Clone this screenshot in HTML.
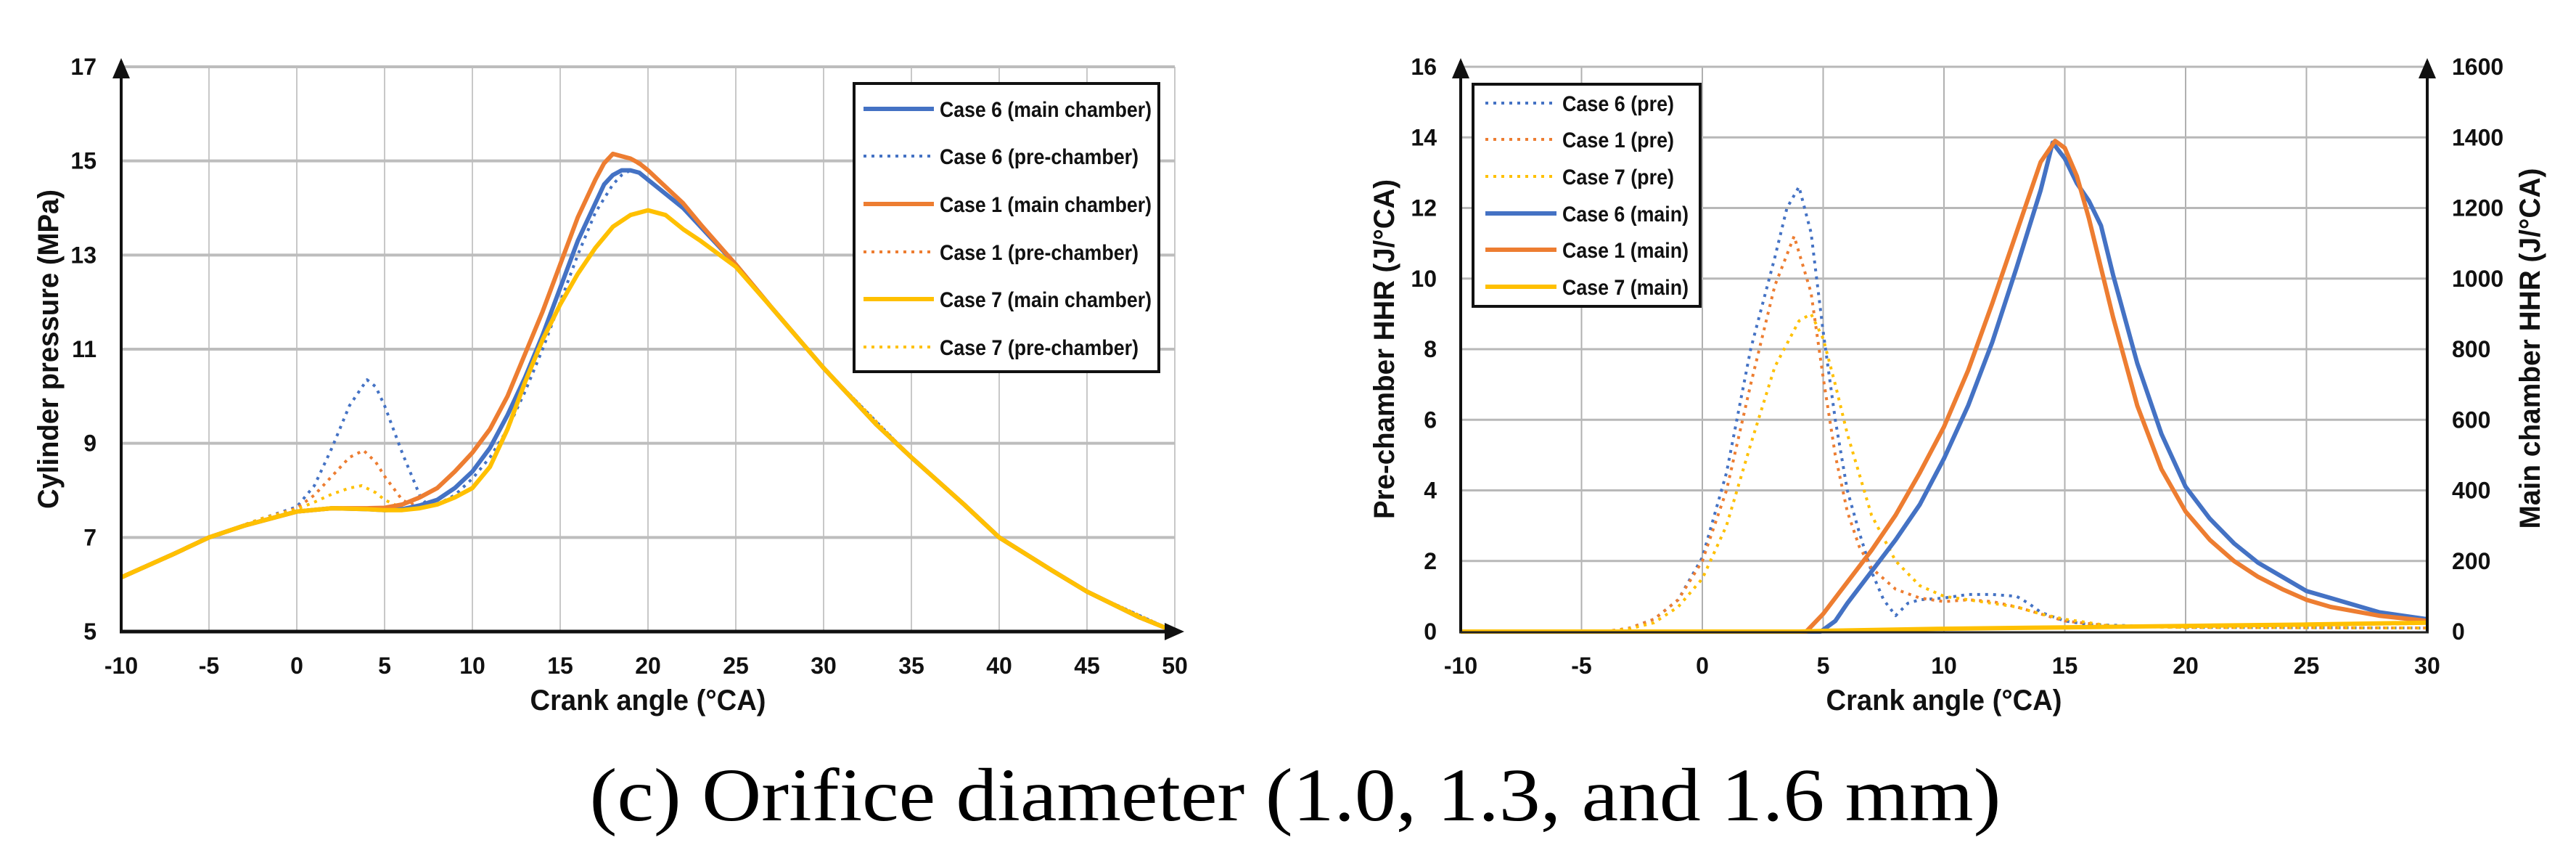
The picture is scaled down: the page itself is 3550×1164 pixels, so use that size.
<!DOCTYPE html>
<html><head><meta charset="utf-8"><style>
html,body{margin:0;padding:0;background:#fff;}
svg{display:block;font-family:"Liberation Sans",sans-serif;}
</style></head><body>
<svg id="fig" width="3550" height="1164" viewBox="0 0 3550 1164" xmlns="http://www.w3.org/2000/svg">
<g id="left"></g>
<g id="right"></g>
<text x="1785" y="1130" text-anchor="middle" font-family="Liberation Serif, serif" font-size="104" textLength="1945" lengthAdjust="spacingAndGlyphs">(c) Orifice diameter (1.0, 1.3, and 1.6 mm)</text>
</svg>
<script>
// ---- Left chart data (cylinder pressure, MPa) ----
const pXTicks = [-10,-5,0,5,10,15,20,25,30,35,40,45,50];
const pYTicks = [5,7,9,11,13,15,17];
const c6mainX = [-10,-7,-5,-3,0,2,4,5,6,7,8,9,10,11,12,13,14,15,16,17,17.5,18,18.5,19,19.5,20,21,22,23,25,27,30,33,35,38,40,43,45,48,50];
const c6mainY = [6.15,6.65,7.0,7.25,7.55,7.62,7.6,7.58,7.6,7.68,7.8,8.05,8.4,8.9,9.6,10.4,11.3,12.3,13.3,14.1,14.5,14.7,14.8,14.8,14.75,14.6,14.3,14.0,13.6,12.8,11.9,10.6,9.4,8.7,7.7,7.0,6.3,5.85,5.3,5.0];
const c1mainX = [-10,-7,-5,-3,0,2,4,5,6,7,8,9,10,11,12,13,14,15,16,17,17.5,18,18.5,19,19.5,20,21,22,23,25,27,30,33,35,38,40,43,45,48,50];
const c1mainY = [6.15,6.65,7.0,7.25,7.55,7.62,7.62,7.63,7.7,7.85,8.05,8.4,8.8,9.3,10.0,10.9,11.8,12.8,13.8,14.6,14.95,15.15,15.1,15.05,14.95,14.8,14.45,14.1,13.65,12.8,11.9,10.6,9.4,8.7,7.7,7.0,6.3,5.85,5.3,5.0];
const c7mainX = [-10,-7,-5,-3,0,2,4,5,6,7,8,9,10,11,12,13,14,15,16,17,18,19,20,21,22,23,25,27,30,33,35,38,40,43,45,48,50];
const c7mainY = [6.15,6.65,7.0,7.25,7.55,7.62,7.6,7.58,7.58,7.62,7.7,7.85,8.05,8.5,9.3,10.3,11.2,11.95,12.6,13.15,13.6,13.85,13.95,13.85,13.55,13.3,12.75,11.9,10.6,9.4,8.7,7.7,7.0,6.3,5.85,5.3,5.0];
const c6preX = [-10,-5,-2,0,1,2,3,4,4.5,5,6,7,7.5,8,9,10,11,12,13,14,15,16,17,18,18.5,19,19.5,20,22,25,30,35,40,45,50];
const c6preY = [6.15,7.0,7.4,7.65,8.1,8.9,9.8,10.35,10.2,9.8,8.8,7.9,7.65,7.7,7.9,8.25,8.7,9.3,10.1,11.0,12.0,13.0,13.9,14.5,14.7,14.8,14.75,14.6,14.0,12.8,10.6,8.7,7.0,5.85,5.0];
const c1preX = [-10,-5,-2,0,1,2,3,3.8,4.5,5,6,6.5,7,8,9,10,11,12,13,14,15,16,17,17.5,18,19,20,22,25,30,35,40,45,50];
const c1preY = [6.15,7.0,7.4,7.62,7.9,8.3,8.7,8.85,8.6,8.3,7.8,7.7,7.85,8.05,8.4,8.8,9.3,10.0,10.9,11.8,12.8,13.8,14.6,14.95,15.15,15.05,14.8,14.1,12.8,10.6,8.7,7.0,5.85,5.0];
const c7preX = [-10,-5,-2,0,1,2,3,3.7,4.5,5,6,7,8,9,10,11,12,13,14,15,16,17,18,19,20,21,22,25,30,35,40,45,50];
const c7preY = [6.15,7.0,7.4,7.6,7.75,7.92,8.05,8.1,7.95,7.8,7.62,7.62,7.7,7.85,8.05,8.5,9.3,10.3,11.2,11.95,12.6,13.15,13.6,13.85,13.95,13.85,13.55,12.75,10.6,8.7,7.0,5.85,5.0];

// ---- Right chart data (HHR) ----
const hXTicks = [-10,-5,0,5,10,15,20,25,30];
const hYTicksL = [0,2,4,6,8,10,12,14,16];
const hYTicksR = [0,200,400,600,800,1000,1200,1400,1600];
const p6X = [-10,-4,-3,-2,-1,0,1,2,3,3.5,4,4.5,5,5.5,6,6.5,7,7.5,8,8.5,9,10,11,12,13,13.5,14,15,16,20,30];
const p6Y = [0,0,0.1,0.35,0.9,2.1,4.5,8.0,10.6,12.0,12.6,11.3,8.5,6.0,4.0,2.8,1.7,0.9,0.45,0.8,0.9,0.95,1.05,1.05,1.0,0.8,0.55,0.3,0.2,0.12,0.1];
const p1X = [-10,-4,-3,-2,-1,0,1,2,3,3.8,4.5,5,5.5,6,6.5,7,8,9,10,11,12,13,14,15,17,20,30];
const p1Y = [0,0,0.1,0.35,0.9,2.0,4.0,7.0,9.8,11.2,9.6,7.2,5.0,3.4,2.4,1.8,1.2,0.95,0.85,0.9,0.85,0.7,0.5,0.3,0.15,0.12,0.1];
const p7X = [-10,-4,-3,-2,-1,0,1,2,3,4,4.5,5,5.5,6,7,8,9,10,11,12,13,14,15,17,20,30];
const p7Y = [0,0,0.08,0.25,0.7,1.5,3.0,5.3,7.5,8.8,9.0,8.3,7.0,5.6,3.3,2.0,1.3,1.0,0.9,0.8,0.7,0.5,0.35,0.15,0.12,0.1];
const m6X = [-10,4.9,5.5,6,7,8,9,10,11,12,13,14,14.5,15,15.5,16,16.5,17,18,19,20,21,22,23,24,25,26,27,28,30];
const m6Y = [0,0,30,80,170,260,360,490,640,820,1030,1250,1385,1340,1270,1220,1150,1010,760,560,410,320,250,195,155,115,95,75,55,35];
const m1X = [-10,4.3,5,6,7,8,9,10,11,12,13,14,14.6,15,15.5,16,17,18,19,20,21,22,23,24,25,26,28,30];
const m1Y = [0,0,50,140,230,330,450,580,740,930,1130,1330,1390,1370,1290,1170,890,640,460,340,260,200,155,120,90,70,45,30];
const m7X = [-10,4,5,10,15,20,25,30];
const m7Y = [0,0,2,8,12,16,20,25];

const NS = "http://www.w3.org/2000/svg";
function mk(parent, tag, attrs){const e=document.createElementNS(NS,tag);for(const k in attrs)e.setAttribute(k,attrs[k]);parent.appendChild(e);return e;}
const BLUE="#4472C4", ORANGE="#ED7D31", YELLOW="#FFC000";

// ---- Left chart ----
const L = document.getElementById('left');
const lx = v => 167 + (v+10)/60*(1619-167);
const ly = v => 870 - (v-5)/12*(870-92);
pXTicks.forEach(t=>{
  const g = mk(L,'line',{x1:lx(t),x2:lx(t),y1:92,y2:870,stroke:"#c8c8c8","stroke-width":2});
  
  
  const tx = mk(L,'text',{x:lx(t),y:928,"text-anchor":"middle","font-size":32,"font-weight":"bold",fill:"#111"});
  tx.textContent = t;
  
  
});
pYTicks.forEach(t=>{
  if(t>5){const g = mk(L,'line',{x1:167,x2:1619,y1:ly(t),y2:ly(t),stroke:"#bdbdbd","stroke-width":4});
  
  }
  const tx = mk(L,'text',{x:133,y:ly(t)+11,"text-anchor":"end","font-size":32,"font-weight":"bold",fill:"#111"});
  tx.textContent = t;
  
  
});
function series(parent, xs, ys, fx, fy, color, dotted, name){
  const pts = xs.map((x,i)=>fx(x).toFixed(1)+","+fy(ys[i]).toFixed(1)).join(" ");
  const a = {points:pts,fill:"none",stroke:color,"stroke-width":dotted?4:6,"stroke-linejoin":"round"};
  if(dotted){a["stroke-dasharray"]="4 7";}
  const p = mk(parent,'polyline',a);
  
  
}
series(L,c6preX,c6preY,lx,ly,BLUE,true,'case6-pre-line');
series(L,c1preX,c1preY,lx,ly,ORANGE,true,'case1-pre-line');
series(L,c7preX,c7preY,lx,ly,YELLOW,true,'case7-pre-line');
series(L,c6mainX,c6mainY,lx,ly,BLUE,false,'case6-main-line');
series(L,c1mainX,c1mainY,lx,ly,ORANGE,false,'case1-main-line');
series(L,c7mainX,c7mainY,lx,ly,YELLOW,false,'case7-main-line');
// axes
mk(L,'line',{x1:167,x2:167,y1:84,y2:872,stroke:"#111","stroke-width":4});
mk(L,'path',{d:"M155,108 L167,80 L179,108 Z",fill:"#111"});
mk(L,'line',{x1:165,x2:1625,y1:870,y2:870,stroke:"#111","stroke-width":5});
mk(L,'path',{d:"M1605,858 L1632,870 L1605,882 Z",fill:"#111"});
{const t=mk(L,'text',{x:893,y:978,"text-anchor":"middle","font-size":40,"font-weight":"bold",fill:"#111",textLength:325,lengthAdjust:"spacingAndGlyphs"});t.textContent="Crank angle (°CA)";
}
{const t=mk(L,'text',{x:0,y:0,transform:"translate(80,481) rotate(-90)","text-anchor":"middle","font-size":40,"font-weight":"bold",fill:"#111",textLength:440,lengthAdjust:"spacingAndGlyphs"});t.textContent="Cylinder pressure (MPa)";
}
// legend
const lg = mk(L,'g',{});


mk(lg,'rect',{x:1177,y:115,width:420,height:397,fill:"#fff",stroke:"#111","stroke-width":4});
const legL = [["Case 6 (main chamber)",BLUE,false],["Case 6 (pre-chamber)",BLUE,true],["Case 1 (main chamber)",ORANGE,false],["Case 1 (pre-chamber)",ORANGE,true],["Case 7 (main chamber)",YELLOW,false],["Case 7 (pre-chamber)",YELLOW,true]];
const legLY = [150,215,281,347,412,478];
legL.forEach((e,i)=>{
  const a={x1:1190,x2:1287,y1:legLY[i],y2:legLY[i],stroke:e[1],"stroke-width":e[2]?4:6};
  if(e[2])a["stroke-dasharray"]="4 7";
  mk(lg,'line',a);
  const t=mk(lg,'text',{x:1295,y:legLY[i]+11,"font-size":30,"font-weight":"bold",fill:"#111",textLength:e[0].indexOf("main")>0?292:274,lengthAdjust:"spacingAndGlyphs"});
  t.textContent=e[0];
  
  
});

// ---- Right chart ----
const R = document.getElementById('right');
const rx = v => 2013 + (v+10)/40*(3345-2013);
const ryL = v => 870 - v/16*(870-92);
const ryR = v => 870 - v/1600*(870-92);
hXTicks.forEach(t=>{
  const g = mk(R,'line',{x1:rx(t),x2:rx(t),y1:92,y2:870,stroke:"#b0b0b0","stroke-width":2});
  
  
  const tx = mk(R,'text',{x:rx(t),y:928,"text-anchor":"middle","font-size":32,"font-weight":"bold",fill:"#111"});
  tx.textContent = t;
  
  
});
hYTicksL.forEach((t,i)=>{
  if(t>0){const g = mk(R,'line',{x1:2013,x2:3345,y1:ryL(t),y2:ryL(t),stroke:"#b8b8b8","stroke-width":3});
  
  }
  const tx = mk(R,'text',{x:1980,y:ryL(t)+11,"text-anchor":"end","font-size":32,"font-weight":"bold",fill:"#111"});
  tx.textContent = t;
  
  
  const tr = mk(R,'text',{x:3379,y:ryR(hYTicksR[i])+11,"font-size":32,"font-weight":"bold",fill:"#111"});
  tr.textContent = hYTicksR[i];
  
  
});
series(R,p6X,p6Y,rx,ryL,BLUE,true,'case6-pre-hhr');
series(R,p1X,p1Y,rx,ryL,ORANGE,true,'case1-pre-hhr');
series(R,p7X,p7Y,rx,ryL,YELLOW,true,'case7-pre-hhr');
series(R,m6X,m6Y,rx,ryR,BLUE,false,'case6-main-hhr');
series(R,m1X,m1Y,rx,ryR,ORANGE,false,'case1-main-hhr');
series(R,m7X,m7Y,rx,ryR,YELLOW,false,'case7-main-hhr');
mk(R,'line',{x1:2013,x2:2013,y1:84,y2:872,stroke:"#111","stroke-width":4});
mk(R,'path',{d:"M2001,108 L2013,80 L2025,108 Z",fill:"#111"});
mk(R,'line',{x1:3345,x2:3345,y1:84,y2:872,stroke:"#111","stroke-width":4});
mk(R,'path',{d:"M3333,108 L3345,80 L3357,108 Z",fill:"#111"});
mk(R,'line',{x1:2011,x2:3347,y1:871,y2:871,stroke:"#222","stroke-width":3});
{const t=mk(R,'text',{x:2679,y:978,"text-anchor":"middle","font-size":40,"font-weight":"bold",fill:"#111",textLength:325,lengthAdjust:"spacingAndGlyphs"});t.textContent="Crank angle (°CA)";
}
{const t=mk(R,'text',{x:0,y:0,transform:"translate(1921,481) rotate(-90)","text-anchor":"middle","font-size":40,"font-weight":"bold",fill:"#111",textLength:468,lengthAdjust:"spacingAndGlyphs"});t.textContent="Pre-chamber HHR (J/°CA)";
}
{const t=mk(R,'text',{x:0,y:0,transform:"translate(3500,480) rotate(-90)","text-anchor":"middle","font-size":40,"font-weight":"bold",fill:"#111",textLength:497,lengthAdjust:"spacingAndGlyphs"});t.textContent="Main chamber HHR (J/°CA)";
}
const rg = mk(R,'g',{});


mk(rg,'rect',{x:2030,y:116,width:313,height:306,fill:"#fff",stroke:"#111","stroke-width":4});
const legR = [["Case 6 (pre)",BLUE,true],["Case 1 (pre)",ORANGE,true],["Case 7 (pre)",YELLOW,true],["Case 6 (main)",BLUE,false],["Case 1 (main)",ORANGE,false],["Case 7 (main)",YELLOW,false]];
const legRY = [142,192,243,294,344,395];
legR.forEach((e,i)=>{
  const a={x1:2047,x2:2145,y1:legRY[i],y2:legRY[i],stroke:e[1],"stroke-width":e[2]?4:6};
  if(e[2])a["stroke-dasharray"]="4 7";
  mk(rg,'line',a);
  const t=mk(rg,'text',{x:2153,y:legRY[i]+11,"font-size":30,"font-weight":"bold",fill:"#111",textLength:e[2]?154:174,lengthAdjust:"spacingAndGlyphs"});
  t.textContent=e[0];
  
  
});
</script>
</body></html>
